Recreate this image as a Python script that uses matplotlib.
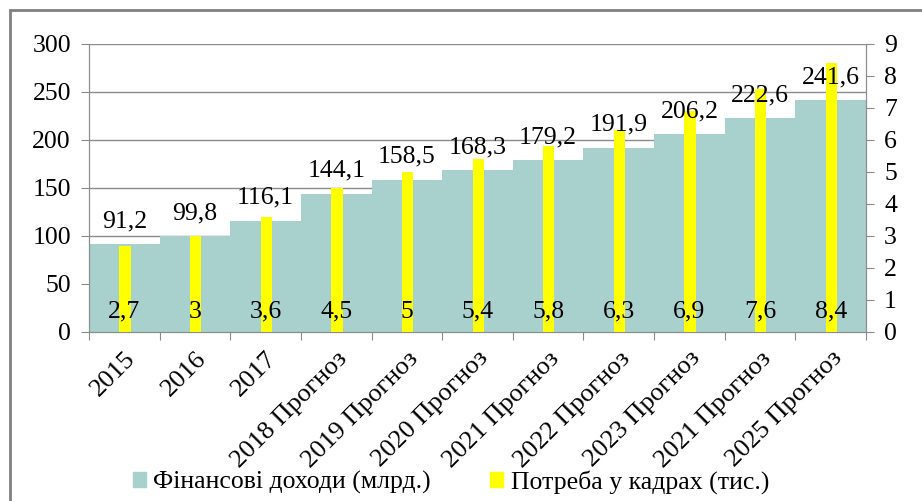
import matplotlib
matplotlib.use("Agg")
import matplotlib.pyplot as plt
from matplotlib.patches import Rectangle, Patch
import numpy as np

categories = ["2015", "2016", "2017", "2018 Прогноз", "2019 Прогноз", "2020 Прогноз",
              "2021 Прогноз", "2022 Прогноз", "2023 Прогноз", "2021 Прогноз", "2025 Прогноз"]
income = [91.2, 99.8, 116.1, 144.1, 158.5, 168.3, 179.2, 191.9, 206.2, 222.6, 241.6]
staff = [2.7, 3, 3.6, 4.5, 5, 5.4, 5.8, 6.3, 6.9, 7.6, 8.4]

TEAL = "#a8d1cd"
YELLOW = "#ffff00"
GRAY = "#8c8c8c"
FS = 18.5

plt.rcParams["font.family"] = ["Liberation Serif", "DejaVu Serif"]


def fmt(v):
    return f"{v:g}".replace(".", ",")


fig = plt.figure(figsize=(9.22, 5.01), dpi=100)
ax = fig.add_axes([89 / 922, 1 - 332 / 501, 777 / 922, 288 / 501])
ax2 = ax.twinx()

x = np.arange(len(categories))
ax.bar(x, income, width=1.0, color=TEAL, zorder=2)
ax2.bar(x + 0.01, staff, width=0.16, color=YELLOW, zorder=3)

# labels drawn on the top axes so they sit above both bar series
for xi, v in zip(x, income):
    ax2.annotate(fmt(v), (xi, v), xycoords=ax.transData, xytext=(0, 16.5),
                 textcoords="offset points", ha="center", va="center",
                 fontsize=FS, zorder=5)
for xi, v in zip(x, staff):
    ax2.annotate(fmt(v), (xi, 0), xytext=(0, 14.5), textcoords="offset points",
                 ha="center", va="center", fontsize=FS, zorder=5)

ax.set_xlim(-0.5, len(categories) - 0.5)
ax.set_ylim(0, 300)
ax.set_yticks(range(0, 301, 50))
ax2.set_ylim(0, 9)
ax2.set_yticks(range(0, 10))

ax.grid(axis="y", color=GRAY, linewidth=1, zorder=0)
ax.set_axisbelow(True)

ax.set_xticks(np.arange(-0.5, len(categories), 1.0), minor=False)
ax.set_xticklabels([])
ax.set_xticks(x, minor=True)
ax.set_xticklabels(categories, minor=True, rotation=45, ha="right",
                   rotation_mode="anchor", fontsize=19)
ax.tick_params(axis="x", which="minor", length=0, pad=11)
ax.tick_params(axis="x", which="major", length=6, color=GRAY)
ax.tick_params(axis="y", length=6, color=GRAY, labelsize=FS, pad=7)
ax2.tick_params(axis="y", length=6, color=GRAY, labelsize=FS, pad=7)

for a in (ax, ax2):
    a.spines["top"].set_visible(False)
    for side in ("left", "right", "bottom"):
        a.spines[side].set_color(GRAY)

handles = [Patch(color=TEAL, label="Фінансові доходи (млрд.)"),
           Patch(color=YELLOW, label="Потреба у кадрах (тис.)")]
fig.legend(handles=handles, loc="center", bbox_to_anchor=(0.489, 1 - 482 / 501),
           ncol=2, frameon=False, prop={"family": "Liberation Serif", "size": FS},
           handlelength=0.5, handleheight=0.5, columnspacing=2.3, handletextpad=0.3)

fig.patches.append(Rectangle((10 / 922, -0.1), 1.2, 1.1 - 10 / 501, transform=fig.transFigure,
                             fill=False, edgecolor="#808080", linewidth=2))

fig.savefig("out.png", dpi=100)
